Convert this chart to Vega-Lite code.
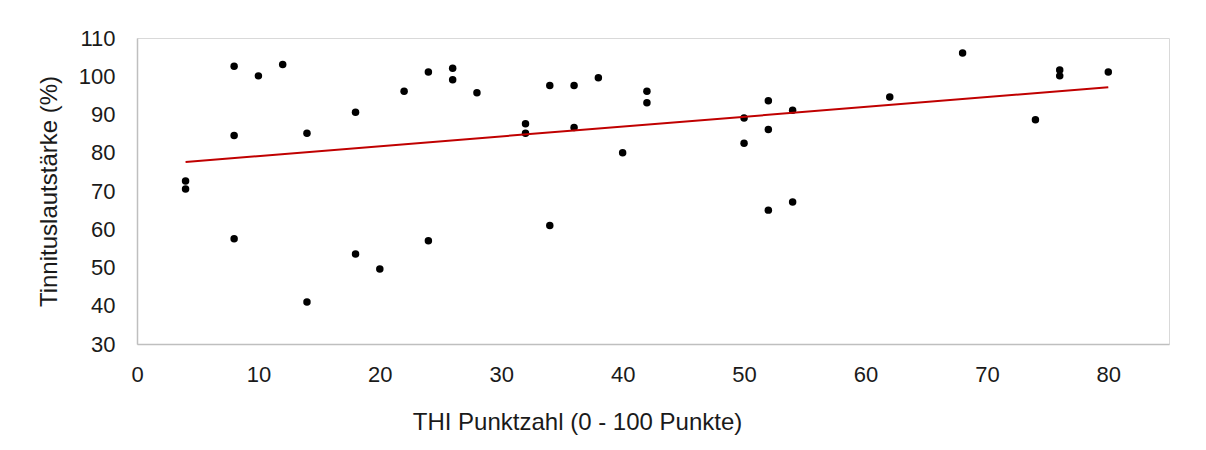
{
  "$schema": "https://vega.github.io/schema/vega-lite/v6.json",
  "width": 1032,
  "height": 306,
  "autosize": {"type": "none"},
  "padding": {"left": 137, "top": 38, "right": 37, "bottom": 106},
  "background": "white",
  "config": {
    "view": {"stroke": "#d9d9d9", "strokeWidth": 1},
    "font": "Liberation Sans",
    "axis": {
      "grid": false,
      "ticks": false,
      "tickSize": 0,
      "labelOverlap": false,
      "labelFlush": false,
      "domainColor": "#bfbfbf",
      "domainWidth": 1.5,
      "labelFont": "Liberation Sans",
      "labelFontSize": 22,
      "labelColor": "#1a1a1a",
      "titleFont": "Liberation Sans",
      "titleFontSize": 24,
      "titleFontWeight": "normal",
      "titleColor": "#1a1a1a"
    }
  },
  "data": {
    "values": [
      {"thi": 4, "laut": 72.6},
      {"thi": 4, "laut": 70.5},
      {"thi": 8, "laut": 102.6},
      {"thi": 8, "laut": 84.5},
      {"thi": 8, "laut": 57.5},
      {"thi": 10, "laut": 100.1},
      {"thi": 12, "laut": 103.1},
      {"thi": 14, "laut": 85.1},
      {"thi": 14, "laut": 41.0},
      {"thi": 18, "laut": 90.6},
      {"thi": 18, "laut": 53.5},
      {"thi": 20, "laut": 49.6},
      {"thi": 22, "laut": 96.1},
      {"thi": 24, "laut": 101.1},
      {"thi": 24, "laut": 57.0},
      {"thi": 26, "laut": 102.1},
      {"thi": 26, "laut": 99.1},
      {"thi": 28, "laut": 95.7},
      {"thi": 32, "laut": 87.6},
      {"thi": 32, "laut": 85.1},
      {"thi": 34, "laut": 97.6},
      {"thi": 34, "laut": 61.0},
      {"thi": 36, "laut": 97.6},
      {"thi": 36, "laut": 86.6},
      {"thi": 38, "laut": 99.6},
      {"thi": 40, "laut": 80.0},
      {"thi": 42, "laut": 96.1},
      {"thi": 42, "laut": 93.1},
      {"thi": 50, "laut": 89.1},
      {"thi": 50, "laut": 82.5},
      {"thi": 52, "laut": 93.6},
      {"thi": 52, "laut": 86.1},
      {"thi": 52, "laut": 65.0},
      {"thi": 54, "laut": 91.1},
      {"thi": 54, "laut": 67.1},
      {"thi": 62, "laut": 94.6},
      {"thi": 68, "laut": 106.1},
      {"thi": 74, "laut": 88.6},
      {"thi": 76, "laut": 101.65},
      {"thi": 76, "laut": 100.1},
      {"thi": 80, "laut": 101.1}
    ]
  },
  "encoding": {
    "x": {
      "field": "thi",
      "type": "quantitative",
      "scale": {"domain": [0, 85], "nice": false, "zero": false},
      "axis": {
        "title": "THI Punktzahl (0 - 100 Punkte)",
        "values": [0, 10, 20, 30, 40, 50, 60, 70, 80],
        "labelOverlap": false,
        "labelPadding": 20,
        "titlePadding": 25,
        "titleX": 440
      }
    },
    "y": {
      "field": "laut",
      "type": "quantitative",
      "scale": {"domain": [30, 110], "nice": false, "zero": false},
      "axis": {
        "title": "Tinnituslautstärke (%)",
        "values": [30, 40, 50, 60, 70, 80, 90, 100, 110],
        "tickCount": 9,
        "labelOverlap": false,
        "labelSeparation": 0,
        "labelPadding": 22,
        "titlePadding": 17
      }
    }
  },
  "layer": [
    {
      "mark": {"type": "point", "filled": true, "color": "black", "opacity": 1, "size": 56}
    },
    {
      "transform": [{"regression": "laut", "on": "thi", "method": "linear"}],
      "mark": {"type": "line", "color": "#c00000", "strokeWidth": 2}
    }
  ]
}
